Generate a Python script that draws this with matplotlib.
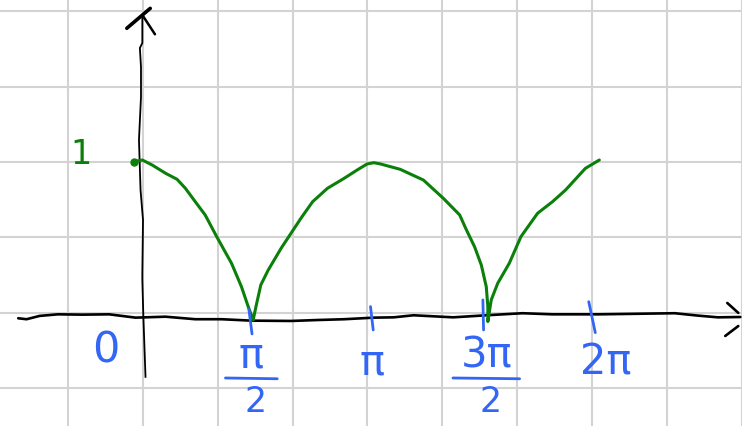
import numpy as np
from matplotlib import pyplot as plt

# |cos x| sketched by hand: x in units of pi, y in units of the peak height
curve_x = [-0.044, -0.007, 0.037, 0.096, 0.147, 0.184, 0.228, 0.272, 0.323, 0.360,
           0.389, 0.433, 0.463, 0.485, 0.499, 0.519, 0.551, 0.609, 0.653, 0.697,
           0.749, 0.815, 0.889, 0.947, 0.991, 1.021, 1.050, 1.138, 1.241, 1.329,
           1.402, 1.432, 1.468, 1.498, 1.520, 1.527, 1.527, 1.542, 1.571, 1.622,
           1.674, 1.748, 1.814, 1.872, 1.960, 2.022]
curve_y = [0.989, 1.000, 0.968, 0.916, 0.878, 0.821, 0.736, 0.652, 0.515, 0.420,
           0.346, 0.198, 0.072, -0.013, 0.082, 0.209, 0.301, 0.441, 0.536, 0.631,
           0.736, 0.821, 0.884, 0.937, 0.975, 0.983, 0.975, 0.941, 0.873, 0.758,
           0.652, 0.557, 0.451, 0.335, 0.198, 0.072, -0.023, 0.114, 0.220, 0.346,
           0.515, 0.663, 0.736, 0.810, 0.947, 1.000]

# wobbly axes
xaxis_x = [-0.558, -0.521, -0.463, -0.382, -0.272, -0.154, -0.037, 0.096, 0.228, 0.345,
           0.477, 0.653, 0.771, 0.889, 1.021, 1.109, 1.197, 1.373, 1.520, 1.681,
           1.814, 2.019, 2.357, 2.459, 2.548, 2.648]
xaxis_y = [-0.002, -0.008, 0.013, 0.023, 0.021, 0.023, 0.002, 0.008, -0.008, -0.008,
           -0.017, -0.019, -0.013, -0.008, 0.002, 0.004, 0.017, 0.004, 0.017, 0.030,
           0.023, 0.023, 0.030, 0.015, 0.004, 0.006]
yaxis_x = [-0.007, -0.007, -0.018, -0.013, -0.013, -0.022, -0.015, -0.004, -0.007, -0.007,
           -0.003, 0.007]
yaxis_y = [1.918, 1.741, 1.709, 1.589, 1.399, 1.127, 0.810, 0.620, 0.285, 0.241,
           0.032, -0.373]

# tick strokes on the x axis (top and bottom ends)
tick_x0 = [0.466, 1.006, 1.505, 1.975]
tick_x1 = [0.480, 1.018, 1.508, 2.004]
tick_y0 = [0.055, 0.072, 0.114, 0.103]
tick_y1 = [-0.101, -0.076, -0.076, -0.093]

# labels under the axis
label_num = ['π', 'π', '3π', '2π']
label_den = ['2', None, '2', None]
label_x = [0.477, 1.013, 1.520, 2.048]
bar_half = [0.115, 0, 0.148, 0]

green = '#0a800a'
blue = '#3366f5'

fig = plt.figure(figsize=(7.42, 4.26), dpi=100)
ax = fig.add_axes([0, 0, 1, 1])
ax.set_xlim(-0.639, 2.630)
ax.set_ylim(-0.684, 2.013)

# squared paper
ax.set_xticks(np.arange(-0.338, 2.7, 0.3326))
ax.set_yticks(np.arange(1.941, -0.7, -0.4772))
ax.tick_params(length=0, labelbottom=False, labelleft=False)
for s in ax.spines.values():
    s.set_visible(False)
ax.grid(True, color='#d3d3d3', linewidth=1.5)
ax.set_axisbelow(True)

ax.plot(xaxis_x, xaxis_y, color='black', lw=1.9, solid_capstyle='round')
ax.plot([2.590, 2.639], [0.095, 0.032], color='black', lw=1.9, solid_capstyle='round')
ax.plot([2.581, 2.639], [-0.114, -0.051], color='black', lw=1.9, solid_capstyle='round')

ax.plot(yaxis_x, yaxis_y, color='black', lw=1.3)
ax.plot([-0.076, 0.028], [1.834, 1.960], color='black', lw=2.6, solid_capstyle='round')
ax.plot([-0.007, 0.049], [1.918, 1.796], color='black', lw=1.8, solid_capstyle='round')

ax.plot(curve_x, curve_y, color=green, lw=2.2, solid_joinstyle='round', solid_capstyle='round')
ax.plot(curve_x[0], curve_y[0], 'o', color=green, ms=5)

for x0, x1, y0, y1 in zip(tick_x0, tick_x1, tick_y0, tick_y1):
    ax.plot([x0, x1], [y0, y1], color=blue, lw=2.0, solid_capstyle='round')

ax.text(-0.167, -0.205, '0', color=blue, fontsize=31, ha='center', va='center')
ax.text(-0.278, 1.035, '1', color=green, fontsize=24, ha='center', va='center')

for num, den, x, hw in zip(label_num, label_den, label_x, bar_half):
    if den is None:
        ax.text(x, -0.28, num, color=blue, fontsize=30, ha='center', va='center')
    else:
        ax.text(x, -0.24, num, color=blue, fontsize=30, ha='center', va='center')
        ax.plot([x - hw, x + hw], [-0.38, -0.385], color=blue, lw=2.0,
                solid_capstyle='round')
        ax.text(x + 0.02, -0.535, den, color=blue, fontsize=25, ha='center', va='center')

plt.savefig('out.png', dpi=100)
